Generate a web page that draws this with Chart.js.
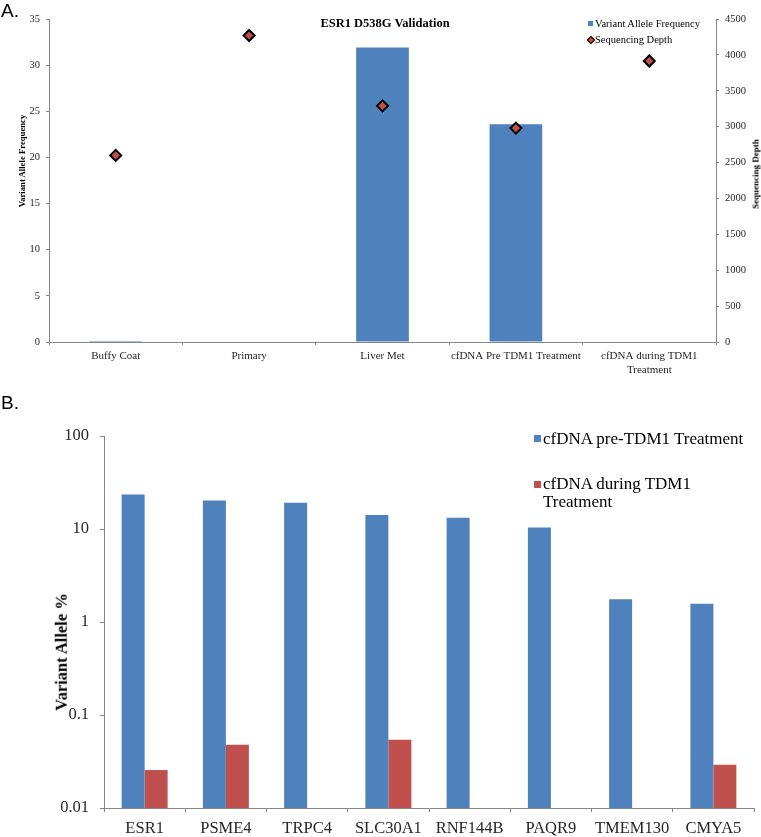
<!DOCTYPE html>
<html><head><meta charset="utf-8">
<script src="https://cdn.jsdelivr.net/npm/chart.js@4/dist/chart.umd.min.js"></script>
<style>
html,body{margin:0;padding:0;background:#fff;}
#wrap{position:relative;width:761px;height:837px;overflow:hidden;font-family:"Liberation Serif","Times New Roman",serif;color:#000;}
canvas{position:absolute;left:0;}
.t{position:absolute;white-space:nowrap;line-height:1;}
.c{transform:translate(-50%,-50%);}
.l{transform:translate(0,-50%);}
.rot{transform:translate(-50%,-50%) rotate(-90deg);}
.sq{position:absolute;}
.panel{font-family:"Liberation Sans",Arial,sans-serif;font-size:19px;}
</style></head><body>
<div id="wrap">
<canvas id="cA" width="761" height="400" style="top:0"></canvas>
<canvas id="cB" width="761" height="427" style="top:410px"></canvas>
<div class="t panel l" style="left:1px;top:10px;">A.</div>
<div class="t panel l" style="left:1px;top:402px;">B.</div>
<div class="t c" style="left:385px;top:23px;font-size:12.5px;font-weight:bold;">ESR1 D538G Validation</div>
<div class="t rot" style="left:22px;top:161px;font-size:8.7px;font-weight:bold;">Variant Allele Frequency</div>
<div class="t rot" style="left:756px;top:174px;font-size:9px;font-weight:bold;">Sequencing Depth</div>
<div class="t rot" style="left:62px;top:652px;font-size:16.5px;font-weight:bold;">Variant Allele %</div>
</div>
<script>
// ---- Panel A data ----
const sampleLabels = ['Buffy Coat', 'Primary', 'Liver Met', 'cfDNA Pre TDM1 Treatment', ['cfDNA during TDM1', 'Treatment']];
const vafValues = [0.1, null, 31.9, 23.6, null];
const depthValues = [2600, 4270, 3290, 2980, 3915];
const vafSeriesName = 'Variant Allele Frequency';
const depthSeriesName = 'Sequencing Depth';

// ---- Panel B data ----
const genes = ['ESR1', 'PSME4', 'TRPC4', 'SLC30A1', 'RNF144B', 'PAQR9', 'TMEM130', 'CMYA5'];
const preValues = [23.5, 20.2, 19.1, 14.1, 13.2, 10.4, 1.76, 1.57];
const duringValues = [0.0256, 0.0479, null, 0.0542, null, null, null, 0.0292];
const preSeriesName = 'cfDNA pre-TDM1 Treatment';
const duringSeriesName = ['cfDNA during TDM1', 'Treatment'];
const logTickValues = [0.01, 0.1, 1, 10, 100];

const BLUE = '#4f81bd', RED = '#c0504d', AXIS = '#868686', TXT = '#262626';
Chart.defaults.font.family = '"Liberation Serif","Times New Roman",serif';
Chart.defaults.color = TXT;

const axisGrid = (len) => ({display: true, drawOnChartArea: false, drawTicks: true, tickLength: len, color: AXIS, lineWidth: 1});
const plain = v => String(v);

new Chart(document.getElementById('cA'), {
  type: 'bar',
  data: {
    labels: sampleLabels,
    datasets: [
      {type: 'line', label: depthSeriesName, data: depthValues, yAxisID: 'yR', showLine: false,
       pointStyle: 'rectRot', pointRadius: 5.5, pointHoverRadius: 5.5,
       pointBackgroundColor: RED, pointBorderColor: '#000', pointBorderWidth: 2, order: 0},
      {type: 'bar', label: vafSeriesName, data: vafValues, yAxisID: 'yL', backgroundColor: BLUE,
       categoryPercentage: 0.395, barPercentage: 1, order: 1}
    ]
  },
  options: {
    responsive: false, animation: false, events: [],
    layout: {padding: {top: 19, left: 0, right: 0, bottom: 0}},
    plugins: {legend: {display: false}, title: {display: false}, tooltip: {enabled: false}},
    scales: {
      x: {offset: true, grid: Object.assign(axisGrid(3), {offset: true}), border: {color: AXIS},
          ticks: {font: {size: 11}, color: TXT, padding: 5, maxRotation: 0, autoSkip: false},
          afterFit(s) { s.height = 58; }},
      yL: {position: 'left', min: 0, max: 35, grid: axisGrid(3), border: {color: AXIS},
           ticks: {stepSize: 5, font: {size: 10.5}, color: TXT, padding: 6, callback: plain},
           afterFit(s) { s.width = 49; }},
      yR: {position: 'right', min: 0, max: 4500, grid: axisGrid(3), border: {color: AXIS},
           ticks: {stepSize: 500, font: {size: 10.5}, color: TXT, padding: 6, callback: plain},
           afterFit(s) { s.width = 45; }}
    }
  }
});

new Chart(document.getElementById('cB'), {
  type: 'bar',
  data: {
    labels: genes,
    datasets: [
      {label: preSeriesName, data: preValues, backgroundColor: BLUE, categoryPercentage: 0.566, barPercentage: 1},
      {label: duringSeriesName.join(' '), data: duringValues, backgroundColor: RED, categoryPercentage: 0.566, barPercentage: 1}
    ]
  },
  options: {
    responsive: false, animation: false, events: [],
    layout: {padding: {top: 26, left: 0, right: 7, bottom: 0}},
    plugins: {legend: {display: false}, title: {display: false}, tooltip: {enabled: false}},
    scales: {
      x: {offset: true, grid: Object.assign(axisGrid(4), {offset: true}), border: {color: AXIS},
          ticks: {font: {size: 16.5}, color: TXT, padding: 7, maxRotation: 0, autoSkip: false},
          afterFit(s) { s.height = 29; }},
      y: {type: 'logarithmic', min: 0.01, max: 100, grid: axisGrid(4), border: {color: AXIS},
          afterBuildTicks(s) { s.ticks = logTickValues.map(v => ({value: v})); },
          ticks: {font: {size: 16.5}, color: TXT, padding: 11, callback: plain},
          afterFit(s) { s.width = 104; }}
    }
  }
});

// ---- legends (HTML text) ----
const wrap = document.getElementById('wrap');
function addDiv(html, style, cls) {
  const d = document.createElement('div');
  d.className = cls || '';
  d.setAttribute('style', style);
  d.innerHTML = html;
  wrap.appendChild(d);
  return d;
}
// Panel A legend
addDiv('', `left:588px;top:21px;width:5px;height:5px;background:${BLUE};`, 'sq');
addDiv(vafSeriesName, 'left:595px;top:23.5px;font-size:10.5px;', 't l');
addDiv('', `left:587.5px;top:36.5px;width:4px;height:4px;background:${RED};border:1.5px solid #000;transform:rotate(45deg);`, 'sq');
addDiv(depthSeriesName, 'left:595px;top:39.5px;font-size:10.5px;', 't l');
// Panel B legend
addDiv('', `left:534px;top:434.5px;width:7px;height:7px;background:${BLUE};`, 'sq');
addDiv(preSeriesName, 'left:543px;top:438px;font-size:17px;', 't l');
addDiv('', `left:534px;top:480.5px;width:7px;height:7px;background:${RED};`, 'sq');
addDiv(duringSeriesName.join('<br>'), 'left:543px;top:475px;font-size:17px;line-height:18px;', 't');
</script>
</body></html>
